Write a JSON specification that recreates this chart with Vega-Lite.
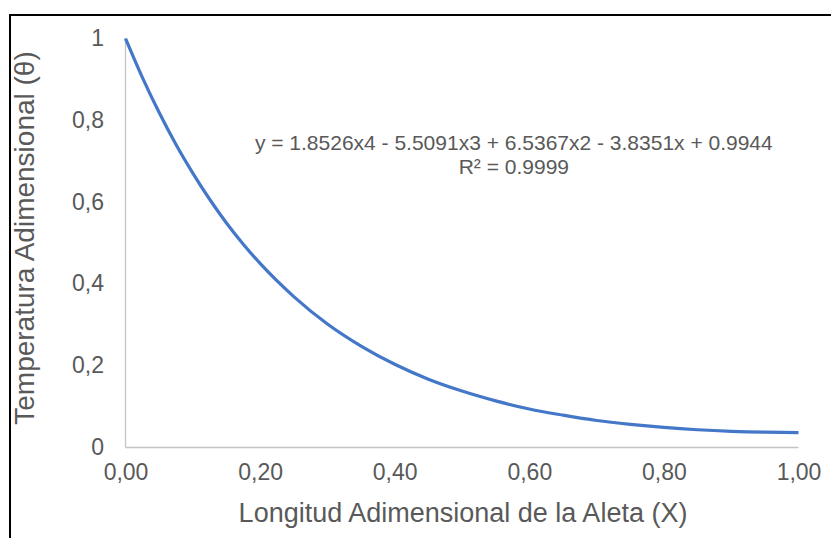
{
  "$schema": "https://vega.github.io/schema/vega-lite/v6.json",
  "width": 826,
  "height": 530,
  "autosize": {"type": "none"},
  "padding": {"left": 10, "top": 15, "right": -5, "bottom": -7},
  "background": "white",
  "config": {
    "view": {"stroke": "black", "strokeWidth": 2},
    "font": "Liberation Sans"
  },
  "data": {
    "values": [
      {"x": 0.0, "y": 1.0},
      {"x": 0.025, "y": 0.905},
      {"x": 0.05, "y": 0.819},
      {"x": 0.075, "y": 0.741},
      {"x": 0.1, "y": 0.671},
      {"x": 0.125, "y": 0.607},
      {"x": 0.15, "y": 0.549},
      {"x": 0.175, "y": 0.497},
      {"x": 0.2, "y": 0.45},
      {"x": 0.25, "y": 0.369},
      {"x": 0.3, "y": 0.302},
      {"x": 0.35, "y": 0.248},
      {"x": 0.4, "y": 0.2035},
      {"x": 0.45, "y": 0.167},
      {"x": 0.5, "y": 0.138},
      {"x": 0.55, "y": 0.114},
      {"x": 0.6, "y": 0.094},
      {"x": 0.65, "y": 0.079},
      {"x": 0.7, "y": 0.066},
      {"x": 0.75, "y": 0.0565},
      {"x": 0.8, "y": 0.049},
      {"x": 0.85, "y": 0.0434},
      {"x": 0.9, "y": 0.0396},
      {"x": 0.95, "y": 0.0374},
      {"x": 1.0, "y": 0.0366}
    ]
  },
  "layer": [
    {
      "data": {"values": [{"x0": 0, "y0": 0, "y1": 1}]},
      "mark": {"type": "rule", "color": "#c4c4c4", "strokeWidth": 1.3},
      "encoding": {
        "x": {"field": "x0", "type": "quantitative"},
        "y": {"field": "y0", "type": "quantitative"},
        "y2": {"field": "y1"}
      }
    },
    {
      "data": {"values": [{"x0": 0, "x1": 1, "y0": 0}]},
      "mark": {"type": "rule", "color": "#c4c4c4", "strokeWidth": 1.3},
      "encoding": {
        "y": {"field": "y0", "type": "quantitative"},
        "x": {"field": "x0", "type": "quantitative"},
        "x2": {"field": "x1"}
      }
    },
    {
      "mark": {"type": "line", "color": "#4477c8", "strokeWidth": 3.2, "interpolate": "monotone"},
      "encoding": {
        "x": {
          "field": "x",
          "type": "quantitative",
          "scale": {"domain": [-0.17162, 1.05572], "nice": false, "zero": false},
          "axis": {
            "orient": "bottom",
            "offset": -97.5,
            "values": [0, 0.2, 0.4, 0.6, 0.8, 1],
            "labelExpr": "replace(format(datum.value, '.2f'), '.', ',')",
            "domain": false,
            "ticks": false,
            "grid": false,
            "labelPadding": 14,
            "labelFontSize": 23,
            "labelColor": "#595959",
            "labelFlush": false,
            "labelOverlap": false,
            "labelBound": false,
            "title": "Longitud Adimensional de la Aleta (X)",
            "titleFontSize": 27,
            "titleFontWeight": "normal",
            "titleColor": "#595959",
            "titleBaseline": "alphabetic",
            "titleAlign": "center",
            "titleX": 452.5,
            "titleY": 74
          }
        },
        "y": {
          "field": "y",
          "type": "quantitative",
          "scale": {"domain": [-0.23839, 1.05746], "nice": false, "zero": false},
          "axis": {
            "orient": "left",
            "offset": -115.5,
            "values": [0, 0.2, 0.4, 0.6, 0.8, 1],
            "labelExpr": "replace(format(datum.value, '.1~f'), '.', ',')",
            "domain": false,
            "ticks": false,
            "grid": false,
            "labelPadding": 22,
            "labelFontSize": 23,
            "labelColor": "#595959",
            "labelFlush": false,
            "labelOverlap": false,
            "labelBound": false,
            "title": "Temperatura Adimensional (θ)",
            "titleFontSize": 28,
            "titleFontWeight": "normal",
            "titleColor": "#595959",
            "titleBaseline": "alphabetic",
            "titleAlign": "center",
            "titleAngle": -90,
            "titleX": -92,
            "titleY": 222.5
          }
        }
      }
    },
    {
      "data": {"values": [{"tx": 0.577, "ty": 0.742}]},
      "mark": {
        "type": "text",
        "fontSize": 21,
        "fill": "#595959",
        "align": "center",
        "baseline": "middle",
        "lineHeight": 24,
        "text": ["y = 1.8526x4 - 5.5091x3 + 6.5367x2 - 3.8351x + 0.9944", "R² = 0.9999"]
      },
      "encoding": {
        "x": {"field": "tx", "type": "quantitative"},
        "y": {"field": "ty", "type": "quantitative"}
      }
    }
  ]
}
